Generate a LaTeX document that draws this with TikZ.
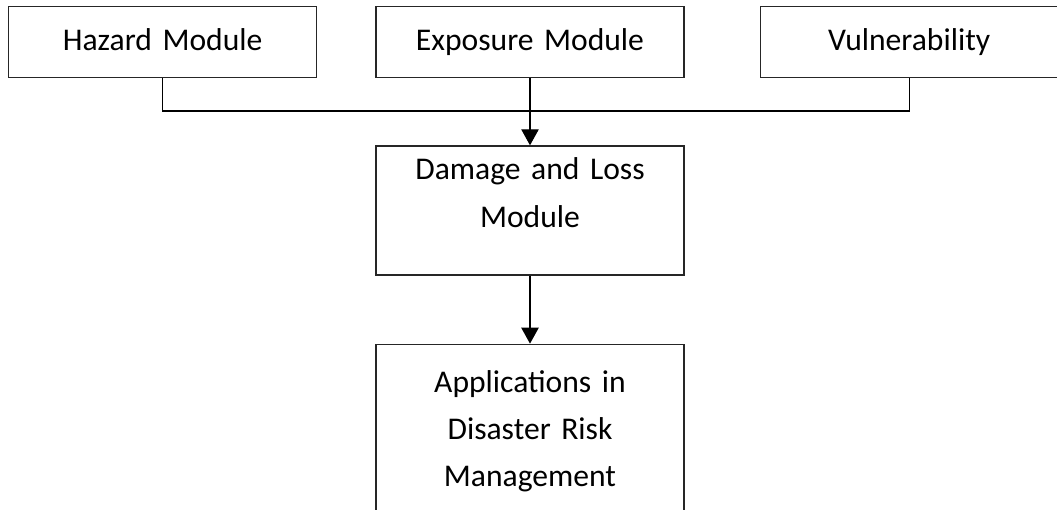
\documentclass[tikz,border=0pt]{standalone}
\usepackage{fontspec}
\setmainfont{Carlito}
\usetikzlibrary{arrows.meta,positioning}

\begin{document}
\begin{tikzpicture}[x=0.75pt,y=0.75pt,>={Triangle[length=12pt,width=13pt]},
        line width=1pt,
        module/.style={draw=black!85,align=center,text width=#1,inner xsep=0pt,inner ysep=0pt,
          font=\fontsize{23.7pt}{35.5pt}\selectfont},
        module/.default=231pt,
        onerow/.style={text height=33pt,text depth=20.25pt}]
        \useasboundingbox (0,0) rectangle (1057,510);
        \node[module, onerow, anchor=north west] (haz) at (8,504) {Hazard Module};
        \node[module, onerow] (exp) [right=43.5pt of haz] {Exposure Module};
        \node[module=223.25pt, onerow] (vul) [right=56.25pt of exp] {Vulnerability};
        \node[module, text height=25.5pt, text depth=71.25pt] (dmg) [below=50.25pt of exp] {Damage and Loss\\Module};
        \node[module, text height=36pt, text depth=112.5pt] (app) [below=51pt of dmg] {Applications in\\Disaster Risk\\Management};
        \coordinate[below=24.4pt of exp.south] (bus);
        \draw (haz.south) |- (bus) -| (vul.south);
        \draw[->] (exp) -- (dmg);
        \draw[->] (dmg) -- (app);
\end{tikzpicture}
\end{document}
